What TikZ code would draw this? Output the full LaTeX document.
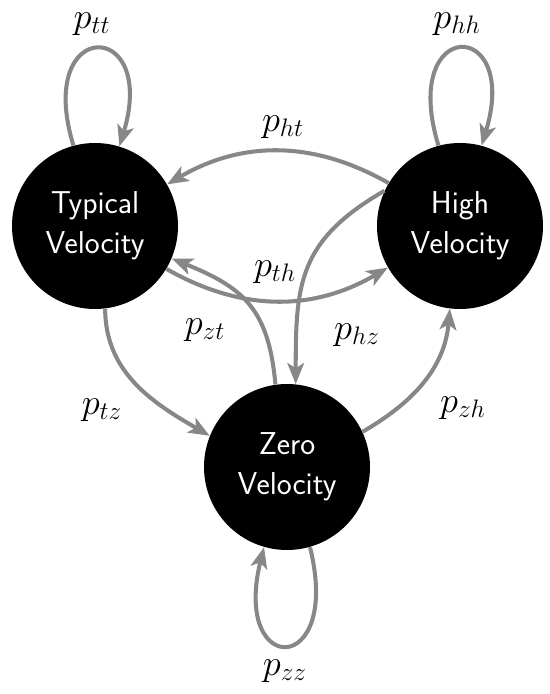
\documentclass[tikz,border=0pt]{standalone}
\usepackage{amsmath, amssymb}
\usepackage{tikz}
\usetikzlibrary{arrows.meta, positioning}

\definecolor{edgegray}{RGB}{135,135,135}

\tikzset{
  state/.style={circle, fill=black, text=white, minimum size=3.32cm, inner sep=0pt,
    align=center, font=\sffamily\fontsize{18}{22.8}\selectfont},
  trans/.style={draw=edgegray, line width=2.3pt,
    -{Stealth[length=12pt, width=9.5pt, inset=3pt]}},
  prob/.style={font=\fontsize{20}{24}\selectfont}
}

\begin{document}
\begin{tikzpicture}
    \useasboundingbox (0, 0) rectangle (11, 13.88);

    % States
    \node[state] (typ)  at (1.9, 9.36)  {Typical\\Velocity};
    \node[state] (high) at (9.2, 9.36)  {High\\Velocity};
    \node[state] (zero) at (5.74, 4.54) {Zero\\Velocity};

    % Self loops
    \draw[trans] (typ.105)  to[out=107, in=73, distance=2.7cm] (typ.73);
    \draw[trans] (high.105) to[out=107, in=73, distance=2.7cm] (high.75);
    \draw[trans] (zero.-74) to[out=-76, in=-104, distance=2.7cm] (zero.-106);

    % Transitions between states
    \draw[trans] (high.149) to[bend right=30] (typ.30);
    \draw[trans] (typ.-31)  to[bend right=30] (high.-150);
    \draw[trans] (zero.98)  to[out=95, in=-22, looseness=1.2] (typ.-23);
    \draw[trans] (high.155) to[out=210, in=90, looseness=1.2] (zero.84);
    \draw[trans] (typ.-83)  to[out=-90, in=150] (zero.158);
    \draw[trans] (zero.25)  to[out=30, in=-95] (high.-97);

    % Labels
    \node[prob] (ptt) at (1.84, 13.4)  {$p_{tt}$};
    \node[prob] (phh) at (9.14, 13.4)  {$p_{hh}$};
    \node[prob] (pht) at (5.66, 11.34) {$p_{ht}$};
    \node[prob] (pth) at (5.5, 8.44)   {$p_{th}$};
    \node[prob] (pzt) at (4.1, 7.28)   {$p_{zt}$};
    \node[prob] (phz) at (7.14, 7.18)  {$p_{hz}$};
    \node[prob] (ptz) at (2.04, 5.68)  {$p_{tz}$};
    \node[prob] (pzh) at (9.26, 5.72)  {$p_{zh}$};
    \node[prob] (pzz) at (5.7, 0.46)   {$p_{zz}$};
\end{tikzpicture}
\end{document}
